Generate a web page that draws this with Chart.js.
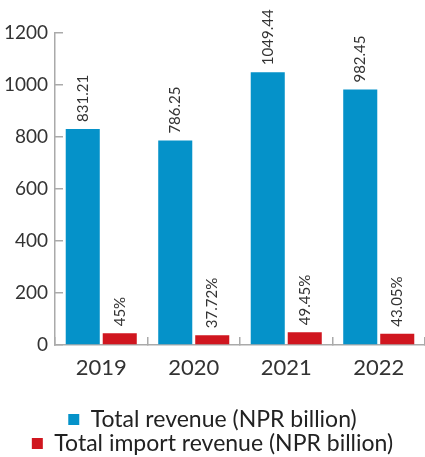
<!DOCTYPE html>
<html>
<head>
<meta charset="utf-8">
<script src="https://cdn.jsdelivr.net/npm/chart.js@4"></script>
<style>
  html, body { margin: 0; padding: 0; background: #fff; }
  #wrap { width: 425px; height: 457px; }
</style>
</head>
<body>
<div id="wrap"><canvas id="revChart" width="425" height="457"></canvas></div>
<script>
const years = ['2019', '2020', '2021', '2022'];
const totalRevenue = [831.21, 786.25, 1049.44, 982.45];
const importRevenue = [45, 37.72, 49.45, 43.05];
const importLabels = ['45%', '37.72%', '49.45%', '43.05%'];
const yTicks = [0, 200, 400, 600, 800, 1000, 1200];

const FONT = 'Lato, "Open Sans", sans-serif';

// rotated value labels above each bar
const barLabels = {
    id: 'barLabels',
    afterDatasetsDraw(chart) {
        const ctx = chart.ctx;
        ctx.save();
        ctx.font = '15px ' + FONT;
        ctx.fillStyle = '#333';
        ctx.textAlign = 'left';
        ctx.textBaseline = 'middle';
        chart.data.datasets.forEach((ds, di) => {
            const meta = chart.getDatasetMeta(di);
            meta.data.forEach((bar, i) => {
                const txt = ds.valueLabels[i];
                ctx.save();
                ctx.translate(bar.x, bar.y - 7);
                ctx.rotate(-Math.PI / 2);
                ctx.fillText(txt, 0, 0);
                ctx.restore();
            });
        });
        ctx.restore();
    }
};

new Chart(document.getElementById('revChart'), {
    type: 'bar',
    data: {
        labels: years,
        datasets: [
            {
                label: 'Total revenue (NPR billion)',
                data: totalRevenue,
                valueLabels: totalRevenue.map(v => String(v)),
                backgroundColor: '#0592C9',
                borderWidth: 0,
                categoryPercentage: 0.8,
                barPercentage: 0.92
            },
            {
                label: 'Total import revenue (NPR billion)',
                data: importRevenue,
                valueLabels: importLabels,
                backgroundColor: '#D0161F',
                borderWidth: 0,
                categoryPercentage: 0.8,
                barPercentage: 0.92
            }
        ]
    },
    options: {
        responsive: false,
        animation: false,
        layout: {
            padding: { left: 0, right: 0, top: 33, bottom: -8 }
        },
        scales: {
            x: {
                offset: true,
                afterFit: axis => {
                    axis.height = 62;
                },
                grid: {
                    offset: true,
                    drawOnChartArea: false,
                    tickLength: -8,
                    color: '#aaa',
                    lineWidth: 1.5
                },
                border: { color: '#aaa', width: 1.5 },
                ticks: {
                    color: '#333',
                    padding: 18,
                    font: { family: FONT, size: 22 }
                }
            },
            y: {
                min: 0,
                max: 1200,
                afterBuildTicks: axis => {
                    axis.ticks = yTicks.map(v => ({ value: v }));
                },
                afterFit: axis => {
                    axis.width = 55;
                },
                grid: {
                    drawOnChartArea: false,
                    tickLength: -8,
                    color: '#aaa',
                    lineWidth: 1.5
                },
                border: { color: '#aaa', width: 1.5 },
                ticks: {
                    color: '#333',
                    padding: 15,
                    font: { family: FONT, size: 19 },
                    callback: v => String(v)
                }
            }
        },
        plugins: {
            legend: {
                position: 'bottom',
                labels: {
                    color: '#222',
                    boxWidth: 11,
                    boxHeight: 11,
                    padding: 1,
                    font: { family: FONT, size: 23 }
                }
            },
            tooltip: { enabled: false }
        }
    },
    plugins: [barLabels]
});
</script>
</body>
</html>
